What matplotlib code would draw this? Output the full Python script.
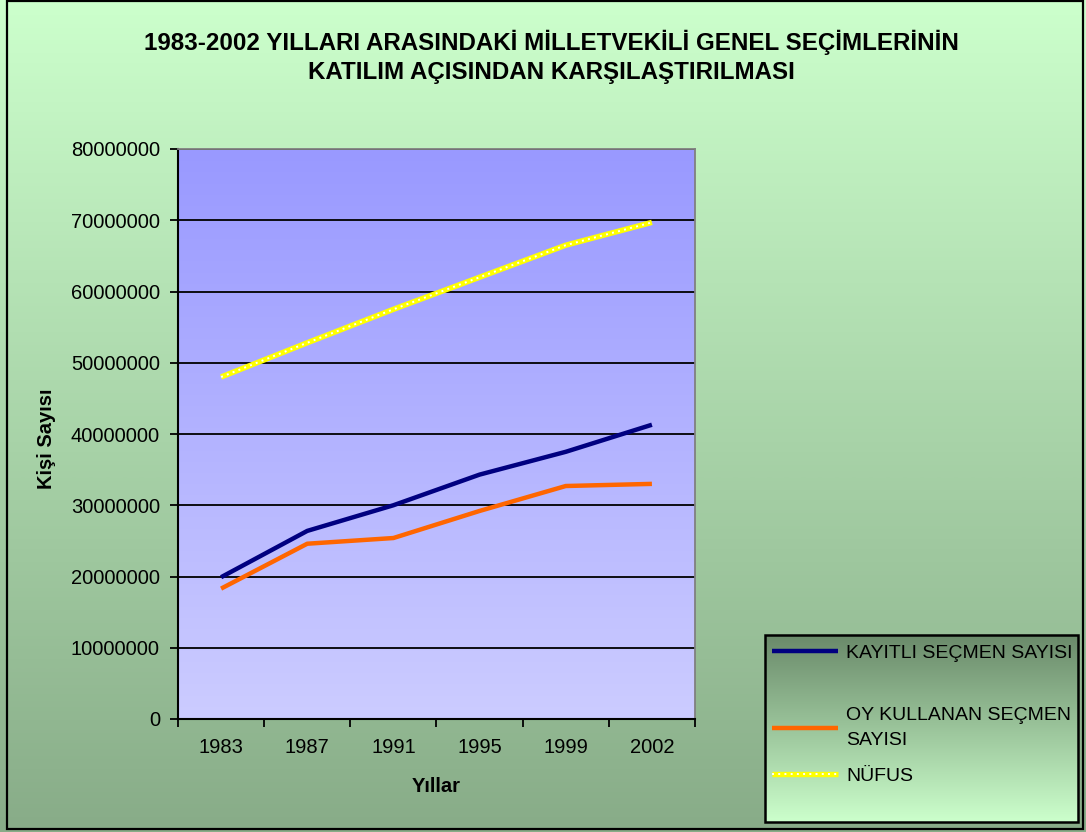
import numpy as np
import matplotlib
matplotlib.use("Agg")
import matplotlib.pyplot as plt
from matplotlib.colors import LinearSegmentedColormap
from matplotlib.legend_handler import HandlerTuple
from matplotlib.patches import Rectangle

plt.rcParams['font.family'] = ['Liberation Sans', 'DejaVu Sans']

# ---- data ----
years = ['1983', '1987', '1991', '1995', '1999', '2002']
kayitli = [19.9e6, 26.4e6, 30.0e6, 34.3e6, 37.5e6, 41.3e6]
oy_kullanan = [18.3e6, 24.6e6, 25.4e6, 29.2e6, 32.7e6, 33.0e6]
nufus = [48.0e6, 52.8e6, 57.5e6, 62.0e6, 66.5e6, 69.7e6]
series_names = ['KAYITLI SEÇMEN SAYISI', 'OY KULLANAN SEÇMEN\nSAYISI', 'NÜFUS']
y_ticks = [0, 10e6, 20e6, 30e6, 40e6, 50e6, 60e6, 70e6, 80e6]
title = "1983-2002 YILLARI ARASINDAKİ MİLLETVEKİLİ GENEL SEÇİMLERİNİN\nKATILIM AÇISINDAN KARŞILAŞTIRILMASI"

W, H = 1086, 832
fig = plt.figure(figsize=(W / 100, H / 100), dpi=100)


def grad_axes(rect, top, bottom, zorder):
    a = fig.add_axes(rect, zorder=zorder)
    cmap = LinearSegmentedColormap.from_list('g', [bottom, top])
    a.imshow(np.linspace(1, 0, 256).reshape(-1, 1), aspect='auto', cmap=cmap,
             extent=[0, 1, 0, 1], vmin=0, vmax=1, interpolation='bilinear')
    a.set_axis_off()
    return a

# figure background gradient
bg = grad_axes([0, 0, 1, 1], '#CCFFCC', '#88AC88', -10)
bg.add_patch(Rectangle((7 / W, 1 - 829 / H), (1083 - 7) / W, (829 - 1) / H,
                       transform=bg.transAxes, fill=False, edgecolor='black', lw=1.6))

# plot area
L, R, T, B = 178, 695, 149, 719
rect = [L / W, 1 - B / H, (R - L) / W, (B - T) / H]
grad_axes(rect, '#9999FF', '#CCCCFF', -5)
ax = fig.add_axes(rect, zorder=0)
ax.patch.set_alpha(0)

x = np.arange(len(years))
l1, = ax.plot(x, kayitli, color='#000080', lw=3.2, solid_capstyle='butt', zorder=3)
l2, = ax.plot(x, oy_kullanan, color='#FF6600', lw=3.2, solid_capstyle='butt', zorder=3)
l3, = ax.plot(x, nufus, color='#FFFF00', lw=3.9, solid_capstyle='butt', zorder=3)
l3d, = ax.plot(x, nufus, color='white', lw=1.4, linestyle=(0, (1, 2.2)), zorder=4)

ax.set_xlim(-0.5, len(years) - 0.5)
ax.set_ylim(0, 80e6)
ax.set_yticks(y_ticks)
ax.ticklabel_format(axis='y', style='plain', useOffset=False)
ax.yaxis.grid(True, color='black', lw=1.3, zorder=1)
ax.set_axisbelow(True)

ax.set_xticks(np.arange(-0.5, len(years)))
ax.set_xticklabels([])
ax.set_xticks(x, minor=True)
ax.set_xticklabels(years, minor=True)
ax.tick_params(axis='x', which='major', direction='out', length=6, width=1.3, color='black')
ax.tick_params(axis='x', which='minor', length=0, pad=14, labelsize=14.5)
ax.tick_params(axis='y', direction='out', length=6, width=1.3, pad=7, labelsize=14.5)

for s in ['left', 'bottom']:
    ax.spines[s].set_color('black')
    ax.spines[s].set_linewidth(1.5)
for s in ['top', 'right']:
    ax.spines[s].set_color('#808080')
    ax.spines[s].set_linewidth(1.3)

ax.set_xlabel('Yıllar', fontsize=14.5, fontweight='bold')
ax.xaxis.set_label_coords((436 - L) / (R - L), (B - 787) / (B - T))
ax.xaxis.label.set_va('center')
ax.set_ylabel('Kişi Sayısı', fontsize=14.5, fontweight='bold')
ax.yaxis.set_label_coords((47 - L) / (R - L), (B - 439) / (B - T))
ax.yaxis.label.set_va('center')

fig.text(551 / W, 1 - 57 / H, title, ha='center', va='center', fontsize=17.4,
         fontweight='bold', linespacing=1.3)

# legend box
lx0, ly0, lx1, ly1 = 765, 635, 1078, 822
lg = grad_axes([lx0 / W, 1 - ly1 / H, (lx1 - lx0) / W, (ly1 - ly0) / H], '#6A8A6A', '#CCFFCC', 5)
lg.add_patch(Rectangle((0, 0), 1, 1, transform=lg.transAxes, fill=False,
                       edgecolor='black', lw=1.8, clip_on=False))

handles = [l1, l2, (l3, l3d)]
centers = [653, 728, 776]
for h, name, cy in zip(handles, series_names, centers):
    leg = fig.legend([h], [name], loc='center left', bbox_to_anchor=(772 / W, 1 - cy / H),
                     frameon=False, fontsize=14, handlelength=3.4, handletextpad=0.4,
                     borderpad=0, borderaxespad=0,
                     handler_map={tuple: HandlerTuple(ndivide=1)})
    for t in leg.get_texts():
        t.set_linespacing(1.55)
    leg.set_zorder(10)

fig.savefig('out.png', dpi=100)
